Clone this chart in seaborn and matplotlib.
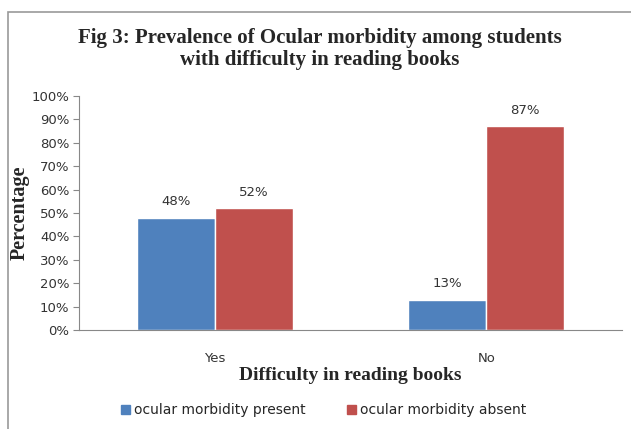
import matplotlib
matplotlib.use("Agg")
import matplotlib.pyplot as plt
import matplotlib.patches as mpatches
import seaborn as sns
import pandas as pd

categories = ["Yes", "No"]
series_names = ["ocular morbidity present", "ocular morbidity absent"]
present = [48, 13]
absent = [52, 87]
yticks = [0, 10, 20, 30, 40, 50, 60, 70, 80, 90, 100]
ytick_labels = [f"{v}%" for v in yticks]
colors = ["#4F81BD", "#C0504D"]

df = pd.DataFrame({
    "cat": categories * 2,
    "series": [series_names[0]] * 2 + [series_names[1]] * 2,
    "value": present + absent,
})

sns.set_theme(style="white")
plt.rcParams["font.family"] = ["DejaVu Sans"]

fig = plt.figure(figsize=(6.31, 4.29), dpi=100)
ax = fig.add_axes([0.1252, 0.2308, 0.8605, 0.5454])

sns.barplot(data=df, x="cat", y="value", hue="series", order=categories,
            hue_order=series_names, palette=colors, width=0.575,
            saturation=1, ax=ax, legend=False)

ax.set_xlim(-0.5, 1.5)
ax.set_ylim(0, 100)
ax.set_yticks(yticks)
ax.set_yticklabels(ytick_labels, fontsize=9.5, color="#333333")
ax.set_xticks(range(len(categories)))
ax.set_xticklabels(categories, fontsize=9.5, color="#333333")
ax.tick_params(axis="y", length=4, width=0.8, color="#888888", pad=3, left=True)
ax.tick_params(axis="x", length=0, pad=16)
for s in ["top", "right"]:
    ax.spines[s].set_visible(False)
for s in ["left", "bottom"]:
    ax.spines[s].set_color("#888888")
    ax.spines[s].set_linewidth(0.8)

for cont in ax.containers:
    ax.bar_label(cont, fmt="%d%%", padding=7, fontsize=9.5, color="#333333")

ax.set_xlabel("Difficulty in reading books", family="Liberation Serif",
              fontweight="bold", fontsize=14, labelpad=1)
ax.set_ylabel("Percentage", family="Liberation Serif", fontweight="bold",
              fontsize=14.5, labelpad=1)

fig.text(0.507, 1 - 38 / 429, "Fig 3: Prevalence of Ocular morbidity among students",
         ha="center", va="center", family="Liberation Serif", fontweight="bold", fontsize=15)
fig.text(0.507, 1 - 60 / 429, "with difficulty in reading books",
         ha="center", va="center", family="Liberation Serif", fontweight="bold", fontsize=15)

handles = [mpatches.Patch(color=c, label=n) for c, n in zip(colors, series_names)]
fig.legend(handles=handles, loc="center", bbox_to_anchor=(0.513, 1 - 410 / 429),
           ncol=2, frameon=False, fontsize=10, handlelength=0.6, handleheight=0.6,
           handletextpad=0.3, columnspacing=3.0)

border = mpatches.Rectangle((8 / 631, -0.05), 1.0, 1 - 12 / 429 + 0.05,
                            transform=fig.transFigure, fill=False,
                            edgecolor="#999999", linewidth=1.2)
fig.patches.append(border)

fig.savefig("out.png", dpi=100)
